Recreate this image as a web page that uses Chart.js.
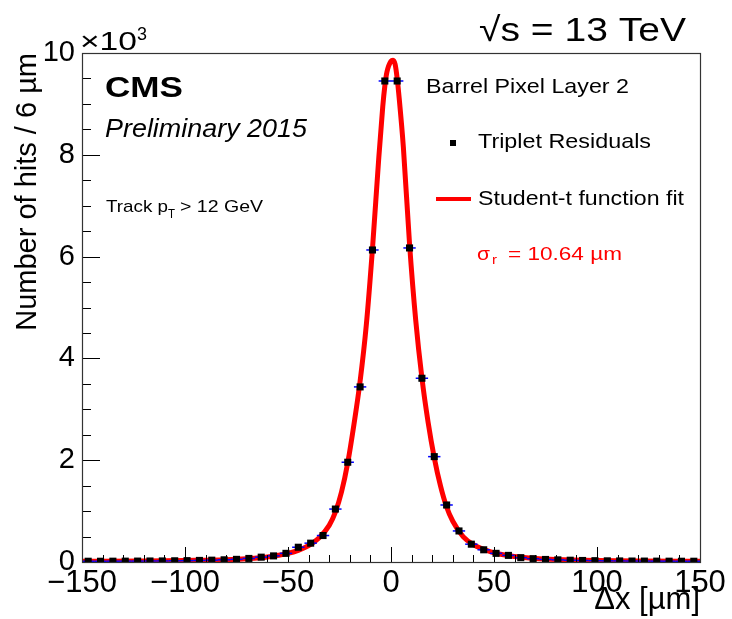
<!DOCTYPE html>
<html>
<head>
<meta charset="utf-8">
<script src="https://cdn.jsdelivr.net/npm/chart.js@4.4.1/dist/chart.umd.min.js"></script>
<style>
  html, body { margin: 0; padding: 0; background: #fff; }
  #wrap { width: 732px; height: 619px; }
</style>
</head>
<body>
<div id="wrap"><canvas id="residualChart"></canvas></div>
<script>
// bin centres of the 6 um bins
const binCenters = [-147, -141, -135, -129, -123, -117, -111, -105, -99, -93,
                    -87, -81, -75, -69, -63, -57, -51, -45, -39, -33,
                    -27, -21, -15, -9, -3, 3, 9, 15, 21, 27,
                    33, 39, 45, 51, 57, 63, 69, 75, 81, 87,
                    93, 99, 105, 111, 117, 123, 129, 135, 141, 147];
// hits per bin, in units of 10^3
const hitCounts = [0.015, 0.015, 0.016, 0.017, 0.018, 0.020, 0.021, 0.024, 0.027, 0.031,
                   0.036, 0.043, 0.052, 0.070, 0.095, 0.120, 0.170, 0.290, 0.370, 0.520,
                   1.04, 1.96, 3.44, 6.13, 9.45, 9.45, 6.17, 3.61, 2.07, 1.12,
                   0.610, 0.350, 0.240, 0.170, 0.130, 0.085, 0.065, 0.050, 0.042, 0.035,
                   0.030, 0.026, 0.023, 0.021, 0.019, 0.018, 0.017, 0.016, 0.015, 0.015];
const binHalfWidth = 3;

// Student-t fit curve
const fitX = [-150, -120, -100, -80, -70, -60, -50, -45, -40, -35, -30, -27, -24, -21, -18, -15, -12, -9, -6, -4, -3, -2,
              0, 1, 2, 3, 4, 6, 9, 12, 15, 18, 21, 24, 27, 30, 35, 40, 45, 50, 60, 70, 80, 100, 120, 150];
const fitY = [0.015, 0.02, 0.03, 0.045, 0.065, 0.10, 0.17, 0.23, 0.32, 0.47, 0.72, 0.98, 1.38, 1.95, 2.70, 3.55, 4.65, 6.15, 7.90, 8.95, 9.35, 9.62,
              9.84, 9.86, 9.78, 9.50, 9.10, 8.15, 6.25, 4.75, 3.62, 2.75, 2.05, 1.50, 1.08, 0.80, 0.50, 0.34, 0.25, 0.18, 0.11, 0.07, 0.05, 0.03, 0.02, 0.015];

const xTickLabels = [-150, -100, -50, 0, 50, 100, 150];
const yTickLabels = [0, 2, 4, 6, 8, 10];

const FONT = "'Liberation Sans', Arial, Helvetica, sans-serif";

// draw a string from x, stretched horizontally to the given width (ROOT text is wide)
function wideText(ctx, str, x, y, font, width) {
    ctx.font = font;
    const sx = width ? width / ctx.measureText(str).width : 1;
    ctx.save();
    ctx.translate(x, y);
    ctx.scale(sx, 1);
    ctx.fillText(str, 0, 0);
    ctx.restore();
}

const errorBars = {
    id: 'errorBars',
    afterDatasetDraw(chart, args) {
        if (args.index !== 1) return;   // right after the fit line, before the markers
        const { ctx, scales: { x, y } } = chart;
        ctx.save();
        ctx.strokeStyle = '#0000ff';
        ctx.lineWidth = 1.5;
        binCenters.forEach((c, i) => {
            const py = y.getPixelForValue(hitCounts[i]);
            ctx.beginPath();
            ctx.moveTo(x.getPixelForValue(c - binHalfWidth), py);
            ctx.lineTo(x.getPixelForValue(c + binHalfWidth), py);
            ctx.stroke();
        });
        ctx.restore();
    }
};

const frameTicks = {
    id: 'frameTicks',
    afterDraw(chart) {
        const { ctx, chartArea: a, scales: { x, y } } = chart;
        ctx.save();
        ctx.strokeStyle = '#000';
        ctx.lineWidth = 1;
        ctx.beginPath();
        for (let v = -150; v <= 150; v += 10) {
            const px = Math.round(x.getPixelForValue(v)) + 0.5;
            const len = v % 50 === 0 ? 15 : 7;
            ctx.moveTo(px, a.bottom);
            ctx.lineTo(px, a.bottom - len);
        }
        for (let v = 0; v <= 10; v += 0.5) {
            const py = Math.round(y.getPixelForValue(v)) + 0.5;
            const len = v % 2 === 0 ? 18 : 9;
            ctx.moveTo(a.left, py);
            ctx.lineTo(a.left + len, py);
        }
        ctx.stroke();
        ctx.strokeStyle = '#333';
        ctx.lineWidth = 1.2;
        ctx.strokeRect(a.left + 0.5, a.top + 0.5, a.right - a.left, a.bottom - a.top);
        ctx.restore();
    }
};

const labels = {
    id: 'labels',
    afterDraw(chart) {
        const ctx = chart.ctx;
        ctx.save();
        ctx.fillStyle = '#000';
        ctx.textBaseline = 'alphabetic';
        ctx.textAlign = 'left';

        // x10^3 exponent
        wideText(ctx, '\u00d710', 80, 50, `25px ${FONT}`, 57);
        wideText(ctx, '3', 137, 40, `18px ${FONT}`, 10);

        wideText(ctx, '\u221as = 13 TeV', 479, 41, `34px ${FONT}`, 207);

        wideText(ctx, 'CMS', 105, 97, `bold 29px ${FONT}`, 78);
        wideText(ctx, 'Preliminary 2015', 105, 137, `italic 26px ${FONT}`, 202);

        wideText(ctx, 'Track p', 106, 212, `17px ${FONT}`, 62);
        wideText(ctx, 'T', 168, 218, `12px ${FONT}`, 7);
        wideText(ctx, '> 12 GeV', 180, 212, `17px ${FONT}`, 83);

        wideText(ctx, 'Barrel Pixel Layer 2', 426, 93, `21px ${FONT}`, 203);

        // legend
        ctx.fillRect(450, 140, 6, 6);
        wideText(ctx, 'Triplet Residuals', 478, 148, `21px ${FONT}`, 173);
        ctx.strokeStyle = '#ff0000';
        ctx.lineWidth = 4;
        ctx.beginPath();
        ctx.moveTo(436, 199);
        ctx.lineTo(471, 199);
        ctx.stroke();
        wideText(ctx, 'Student-t function fit', 478, 205, `21px ${FONT}`, 206);

        ctx.fillStyle = '#ff0000';
        wideText(ctx, '\u03c3', 477, 260, `19px ${FONT}`, 13);
        wideText(ctx, 'r', 492, 264, `13px ${FONT}`, 5);
        wideText(ctx, '= 10.64 \u00b5m', 508, 260, `19px ${FONT}`, 114);
        ctx.restore();
    }
};

const ctx = document.getElementById('residualChart').getContext('2d');

const residualChart = new Chart(ctx, {
    type: 'scatter',
    data: {
        datasets: [
            {
                label: 'Triplet Residuals',
                data: binCenters.map((c, i) => ({ x: c, y: hitCounts[i] })),
                pointStyle: 'rect',
                pointRadius: 5,
                backgroundColor: '#000',
                borderColor: '#000',
                borderWidth: 0,
                showLine: false
            },
            {
                label: 'Student-t function fit',
                data: fitX.map((v, i) => ({ x: v, y: fitY[i] })),
                showLine: true,
                borderColor: '#ff0000',
                borderWidth: 5,
                pointRadius: 0,
                cubicInterpolationMode: 'monotone',
                fill: false
            }
        ]
    },
    options: {
        responsive: true,
        maintainAspectRatio: false,
        animation: false,
        layout: { padding: { left: 0, top: 53, right: 32, bottom: 0 } },
        scales: {
            x: {
                type: 'linear',
                min: -150,
                max: 150,
                afterBuildTicks: scale => { scale.ticks = xTickLabels.map(v => ({ value: v })); },
                afterFit: scale => { scale.height = 57; },
                grid: { drawOnChartArea: false, drawTicks: false },
                border: { display: false },
                ticks: {
                    padding: 3,
                    maxRotation: 0,
                    autoSkip: false,
                    color: '#000',
                    font: { family: FONT, size: 31 },
                    callback: v => v < 0 ? '\u2212' + Math.abs(v) : String(v)
                },
                title: {
                    display: true,
                    text: '\u0394x [\u00b5m]',
                    align: 'end',
                    color: '#000',
                    font: { family: FONT, size: 31 },
                    padding: 0
                }
            },
            y: {
                min: 0,
                max: 10,
                afterBuildTicks: scale => { scale.ticks = yTickLabels.map(v => ({ value: v })); },
                afterFit: scale => { scale.width = 82; },
                grid: { drawOnChartArea: false, drawTicks: false },
                border: { display: false },
                ticks: {
                    padding: 7,
                    color: '#000',
                    font: { family: FONT, size: 29 }
                },
                title: {
                    display: true,
                    text: 'Number of hits / 6 \u00b5m',
                    align: 'end',
                    color: '#000',
                    font: { family: FONT, size: 29 },
                    padding: { top: 11, bottom: 0 }
                }
            }
        },
        plugins: {
            legend: { display: false },
            tooltip: { enabled: false }
        }
    },
    plugins: [errorBars, frameTicks, labels]
});
</script>
</body>
</html>
